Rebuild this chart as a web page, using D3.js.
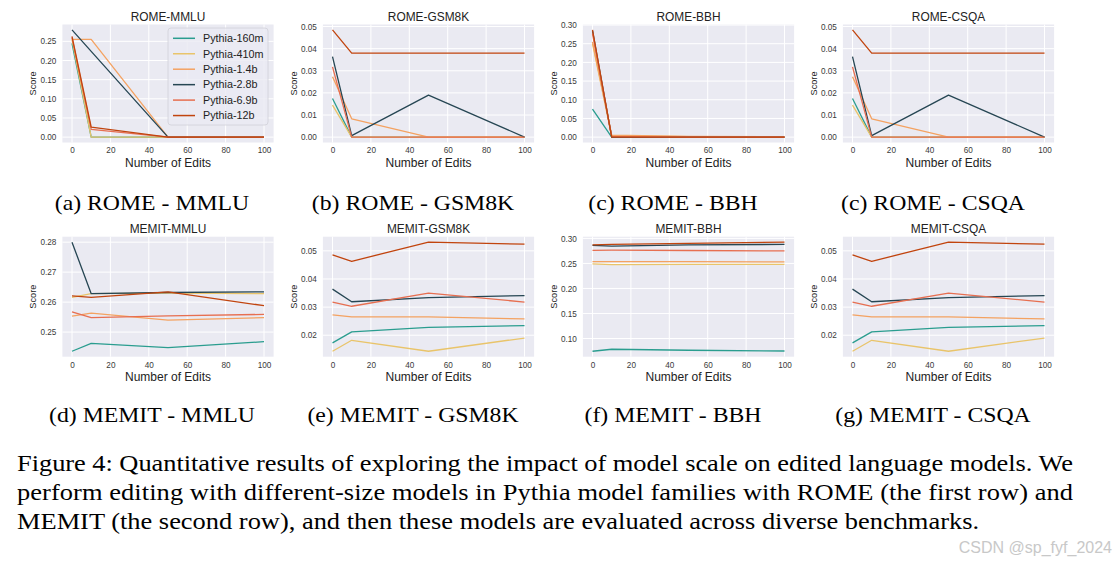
<!DOCTYPE html>
<html><head><meta charset="utf-8">
<script src="https://cdn.jsdelivr.net/npm/d3@7"></script>
<style>body{margin:0;background:#fff}</style>
</head><body><svg id="c" width="1116" height="567"></svg>
<script>
// ---------- data ----------
const editCounts = [0, 10, 50, 100];
const modelNames = ["Pythia-160m", "Pythia-410m", "Pythia-1.4b", "Pythia-2.8b", "Pythia-6.9b", "Pythia-12b"];
const modelColors = ["#2a9d8f", "#e9c46a", "#f4a261", "#264653", "#e76f51", "#c1440e"];
const xTicks = [0, 20, 40, 60, 80, 100];

// each row = one model (160m, 410m, 1.4b, 2.8b, 6.9b, 12b), values at editCounts
const romeMmlu = [
  [0.245, 0.0, 0.0, 0.0],
  [0.255, 0.0, 0.0, 0.0],
  [0.255, 0.255, 0.0, 0.0],
  [0.280, 0.224, 0.0, 0.0],
  [0.260, 0.020, 0.0, 0.0],
  [0.263, 0.026, 0.0, 0.0]
];
const romeGsm8k = [
  [0.0175, 0.0, 0.0, 0.0],
  [0.0145, 0.0, 0.0, 0.0],
  [0.0273, 0.0083, 0.0, 0.0],
  [0.0364, 0.0007, 0.0190, 0.0],
  [0.0318, 0.0, 0.0, 0.0],
  [0.0485, 0.0380, 0.0380, 0.0380]
];
const romeBbh = [
  [0.075, 0.0, 0.0, 0.0],
  [0.250, 0.003, 0.001, 0.0],
  [0.255, 0.005, 0.002, 0.001],
  [0.285, 0.0, 0.0, 0.0],
  [0.277, 0.002, 0.0, 0.0],
  [0.287, 0.0, 0.0, 0.0]
];
const romeCsqa = [
  [0.0175, 0.0, 0.0, 0.0],
  [0.0145, 0.0, 0.0, 0.0],
  [0.0273, 0.0083, 0.0, 0.0],
  [0.0364, 0.0007, 0.0190, 0.0],
  [0.0318, 0.0, 0.0, 0.0],
  [0.0485, 0.0380, 0.0380, 0.0380]
];
const memitMmlu = [
  [0.2436, 0.2462, 0.2448, 0.2468],
  [0.2616, 0.2628, 0.2630, 0.2628],
  [0.2553, 0.2563, 0.2540, 0.2548],
  [0.2800, 0.2628, 0.2632, 0.2634],
  [0.2567, 0.2548, 0.2554, 0.2559],
  [0.2621, 0.2616, 0.2634, 0.2588]
];
const memitGsm8k = [
  [0.0173, 0.0212, 0.0228, 0.0234],
  [0.0143, 0.0182, 0.0143, 0.0190],
  [0.0272, 0.0265, 0.0265, 0.0258],
  [0.0364, 0.0319, 0.0334, 0.0341],
  [0.0318, 0.0303, 0.0350, 0.0318],
  [0.0486, 0.0463, 0.0531, 0.0524]
];
const memitBbh = [
  [0.0745, 0.0785, 0.0765, 0.0750],
  [0.2490, 0.2475, 0.2480, 0.2482],
  [0.2535, 0.2535, 0.2535, 0.2530],
  [0.2862, 0.2845, 0.2870, 0.2880],
  [0.2760, 0.2765, 0.2758, 0.2750],
  [0.2870, 0.2880, 0.2900, 0.2925]
];
const memitCsqa = [
  [0.0173, 0.0212, 0.0228, 0.0234],
  [0.0143, 0.0182, 0.0143, 0.0190],
  [0.0272, 0.0265, 0.0265, 0.0258],
  [0.0364, 0.0319, 0.0334, 0.0341],
  [0.0318, 0.0303, 0.0350, 0.0318],
  [0.0486, 0.0463, 0.0531, 0.0524]
];

const yTicksRomeMmlu = [0, 0.05, 0.10, 0.15, 0.20, 0.25];
const yTicksSmall = [0, 0.01, 0.02, 0.03, 0.04, 0.05];
const yTicksRomeBbh = [0, 0.05, 0.10, 0.15, 0.20, 0.25, 0.30];
const yTicksMemitMmlu = [0.25, 0.26, 0.27, 0.28];
const yTicksMemitSmall = [0.02, 0.03, 0.04, 0.05];
const yTicksMemitBbh = [0.10, 0.15, 0.20, 0.25, 0.30];

const panelTitles = ["ROME-MMLU", "ROME-GSM8K", "ROME-BBH", "ROME-CSQA",
                     "MEMIT-MMLU", "MEMIT-GSM8K", "MEMIT-BBH", "MEMIT-CSQA"];
const subCaptions = ["(a) ROME - MMLU", "(b) ROME - GSM8K", "(c) ROME - BBH", "(c) ROME - CSQA",
                     "(d) MEMIT - MMLU", "(e) MEMIT - GSM8K", "(f) MEMIT - BBH", "(g) MEMIT - CSQA"];
const captionLines = [
  "Figure 4: Quantitative results of exploring the impact of model scale on edited language models. We",
  "perform editing with different-size models in Pythia model families with ROME (the first row) and",
  "MEMIT (the second row), and then these models are evaluated across diverse benchmarks."
];
const watermark = "CSDN @sp_fyf_2024";

// ---------- layout ----------
const panelData = [romeMmlu, romeGsm8k, romeBbh, romeCsqa, memitMmlu, memitGsm8k, memitBbh, memitCsqa];
const panelYTicks = [yTicksRomeMmlu, yTicksSmall, yTicksRomeBbh, yTicksSmall,
                     yTicksMemitMmlu, yTicksMemitSmall, yTicksMemitBbh, yTicksMemitSmall];
const colLeft = [62.4, 322.9, 582.9, 842.9];
const plotW = 211.2;
const rowTop = [24.5, 236.7];
const rowH = [118, 120];
const subCapX = [152, 413, 673, 933];
const subCapY = [210, 422];

const svg = d3.select("#c");
const sans = "'Liberation Sans', Arial, sans-serif";
const serif = "'Liberation Serif', 'Times New Roman', serif";

panelData.forEach((series, i) => {
  const col = i % 4, row = Math.floor(i / 4);
  const L = colLeft[col], T = rowTop[row], H = rowH[row];
  const g = svg.append("g");

  const x = d3.scaleLinear().domain([-5, 105]).range([L, L + plotW]);
  const all = series.flat();
  const lo = d3.min(all), hi = d3.max(all), pad = (hi - lo) * 0.05;
  const y = d3.scaleLinear().domain([lo - pad, hi + pad]).range([T + H, T]);

  g.append("rect").attr("x", L).attr("y", T).attr("width", plotW).attr("height", H).attr("fill", "#eaeaf2");

  // grid
  g.selectAll(".gx").data(xTicks).enter().append("line")
    .attr("x1", d => x(d)).attr("x2", d => x(d)).attr("y1", T).attr("y2", T + H)
    .attr("stroke", "#fff").attr("stroke-width", 1);
  g.selectAll(".gy").data(panelYTicks[i]).enter().append("line")
    .attr("x1", L).attr("x2", L + plotW).attr("y1", d => y(d)).attr("y2", d => y(d))
    .attr("stroke", "#fff").attr("stroke-width", 1);

  // axes (labels only)
  const xa = g.append("g").attr("transform", `translate(0,${T + H})`)
    .call(d3.axisBottom(x).tickValues(xTicks).tickSize(0).tickPadding(5).tickFormat(d3.format("d")));
  const ya = g.append("g").attr("transform", `translate(${L},0)`)
    .call(d3.axisLeft(y).tickValues(panelYTicks[i]).tickSize(0).tickPadding(6).tickFormat(d3.format(".2f")));
  [xa, ya].forEach(a => {
    a.select(".domain").remove();
    a.selectAll("text").attr("font-family", sans).attr("font-size", 8.2).attr("fill", "#3a3a3a");
  });

  // lines
  const line = d3.line().x((d, k) => x(editCounts[k])).y(d => y(d));
  series.forEach((vals, m) => {
    g.append("path").datum(vals).attr("d", line)
      .attr("fill", "none").attr("stroke", modelColors[m]).attr("stroke-width", 1.3)
      .attr("stroke-linejoin", "round");
  });

  // texts
  g.append("text").attr("x", L + plotW / 2).attr("y", T - 4).attr("text-anchor", "middle")
    .attr("font-family", sans).attr("font-size", 11.9).attr("fill", "#222").text(panelTitles[i]);
  g.append("text").attr("x", L + plotW / 2).attr("y", T + H + 24.5).attr("text-anchor", "middle")
    .attr("font-family", sans).attr("font-size", 12).attr("fill", "#222").text("Number of Edits");
  g.append("text").attr("transform", `translate(${L - 26},${T + H / 2}) rotate(-90)`)
    .attr("text-anchor", "middle").attr("font-family", sans).attr("font-size", 9.2)
    .attr("fill", "#222").text("Score");

  svg.append("text")
    .attr("transform", `translate(${subCapX[col]},${subCapY[row]}) scale(1.08,1)`)
    .attr("text-anchor", "middle")
    .attr("font-family", serif).attr("font-size", 22).attr("fill", "#000").text(subCaptions[i]);

  // legend in first panel
  if (i === 0) {
    const lg = svg.append("g");
    lg.append("rect").attr("x", 168).attr("y", 28).attr("width", 100).attr("height", 97).attr("rx", 3)
      .attr("fill", "#eaeaf2").attr("fill-opacity", 0.8).attr("stroke", "#d0d0d8").attr("stroke-width", 0.8);
    modelNames.forEach((nm, m) => {
      const cy = 38.3 + m * 15.45;
      lg.append("line").attr("x1", 173).attr("x2", 195).attr("y1", cy).attr("y2", cy)
        .attr("stroke", modelColors[m]).attr("stroke-width", 1.5);
      lg.append("text").attr("x", 203).attr("y", cy + 3.8).attr("font-family", sans).attr("font-size", 10.8)
        .attr("fill", "#222").text(nm);
    });
  }
});

// caption
const capScale = 1.175;
captionLines.forEach((t, k) => {
  const tx = svg.append("text")
    .attr("transform", `translate(17,${471 + k * 29}) scale(${capScale},1)`)
    .attr("font-family", serif).attr("font-size", 22.5).attr("fill", "#000").text(t);
  if (k < 2) tx.attr("textLength", 1056 / capScale).attr("lengthAdjust", "spacing");
});
svg.append("text").attr("x", 1112).attr("y", 553).attr("text-anchor", "end")
  .attr("font-family", sans).attr("font-size", 16).attr("fill", "#c8c8c8").text(watermark);
</script>
</body></html>
